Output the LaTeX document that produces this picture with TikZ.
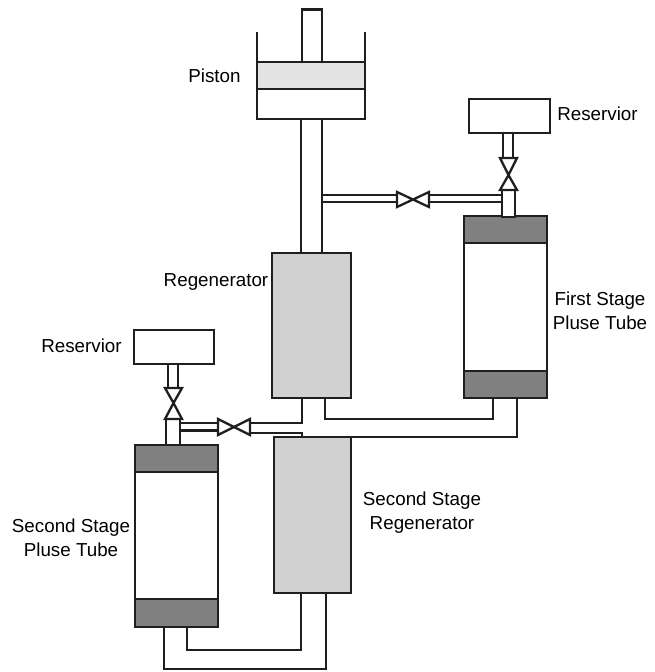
\documentclass[tikz,border=0pt]{standalone}
\usepackage{fontspec}
\setmainfont{Liberation Sans}
\tikzset{
  x=1pt,y=-1pt,
  lw/.style={line width=2.3pt,draw=black!88},
  box/.style={lw,rectangle,inner sep=0pt,outer sep=0pt},
  plain/.style={box,fill=white},
  regen/.style={box,fill=black!18},
  endcap/.style={box,fill=black!50},
  pipe/.style={lw,line join=miter},
  valve/.style={lw,fill=white,line join=miter},
  lbl/.style={font=\fontsize{18.8pt}{24pt}\selectfont,align=center,inner sep=0pt,text=black},
}
\begin{document}
\begin{tikzpicture}
\useasboundingbox (0,0) rectangle (654,672);
% named vertical guide lines
\foreach \n/\x in {pa/302,pb/325,pc/493,pd/517,pe/187,pf/164,pg/301,ph/326}
  \coordinate (\n) at (\x,0);
% piston assembly
\node[box,fill=white,minimum width=20pt,minimum height=53pt,anchor=north west] (rod) at (302,9.5) {};
\node[box,fill=black!11,minimum width=108pt,minimum height=27pt,anchor=north west] (piston) at (257,62) {};
\node[box,fill=white,minimum width=108pt,minimum height=30pt,anchor=north west] (chamber) at (257,89) {};
\draw[pipe] (piston.north west) -- ++(0,-30);
\draw[pipe] (piston.north east) -- ++(0,-30);
% main components
\node[box,fill=white,minimum width=21pt,minimum height=134pt,anchor=north west] (tube) at (301,119) {};
\node[regen,minimum width=79pt,minimum height=145pt,anchor=north west] (reg1) at (272,253) {};
\node[regen,minimum width=77pt,minimum height=156pt,anchor=north west] (reg2) at (274,437) {};
% first stage pulse tube
\node[plain,minimum width=81pt,minimum height=34pt,anchor=north west] (res1) at (469,99) {};
\node[plain,minimum width=83pt,minimum height=182pt,anchor=north west] (pt1) at (464,216) {};
\node[endcap,minimum width=83pt,minimum height=27pt,anchor=north west] (pt1top) at (464,216) {};
\node[endcap,minimum width=83pt,minimum height=27pt,anchor=north west] (pt1bot) at (464,371) {};
% second stage pulse tube
\node[plain,minimum width=80pt,minimum height=34pt,anchor=north west] (res2) at (134,330) {};
\node[plain,minimum width=83pt,minimum height=182pt,anchor=north west] (pt2) at (135,445) {};
\node[endcap,minimum width=83pt,minimum height=27pt,anchor=north west] (pt2top) at (135,445) {};
\node[endcap,minimum width=83pt,minimum height=28pt,anchor=north west] (pt2bot) at (135,599) {};
% first stage valves and pipes
\node[plain,minimum width=13pt,minimum height=27pt,anchor=north west] (tee1) at (502,190) {};
\draw[pipe] (503,133) -- ++(0,25) (513,133) -- ++(0,25);
\draw[valve] (500,158) -- (517,158) -- (508.5,175) -- cycle;
\draw[valve] (500,190) -- (517,190) -- (508.5,175) -- cycle;
\draw[pipe] (322,195) -- (397,195) (322,202) -- (397,202);
\draw[pipe] (429,195) -- (tee1.west |- 0,195) (429,202) -- (tee1.west |- 0,202);
\draw[valve] (397,192) -- (397,207) -- (413,199.5) -- cycle;
\draw[valve] (429,192) -- (429,207) -- (413,199.5) -- cycle;
% second stage valves and pipes
\node[plain,minimum width=14pt,minimum height=26pt,anchor=north west] (tee2) at (166,419) {};
\draw[pipe] (168,364) -- ++(0,24) (178,364) -- ++(0,24);
\draw[valve] (165,388) -- (182,388) -- (173.5,403) -- cycle;
\draw[valve] (165,419) -- (182,419) -- (173.5,403) -- cycle;
\draw[pipe] (tee2.east |- 0,423) -- (218,423) (tee2.east |- 0,430.5) -- (218,430.5);
\draw[valve] (218,419) -- (218,435) -- (234,427) -- cycle;
\draw[valve] (250,419) -- (250,435) -- (234,427) -- cycle;
% connecting lines
\draw[pipe] (reg1.south -| pa) |- (250,423);
\draw[pipe] (250,433) -| (reg2.north -| pa);
\draw[pipe] (reg1.south -| pb) |- (pc |- 0,419) -- (pt1bot.south -| pc);
\draw[pipe] (reg2.north east) -| (pt1bot.south -| pd);
\draw[pipe] (pt2bot.south -| pe) |- (pg |- 0,650) -- (reg2.south -| pg);
\draw[pipe] (pt2bot.south -| pf) |- (ph |- 0,669) -- (reg2.south -| ph);
% labels
\node[lbl] (l1) at (214.5,76) {Piston};
\node[lbl] (l2) at (597.5,114) {Reservior};
\node[lbl] (l3) at (216,282) {Regenerator};
\node[lbl] (l4) at (600,311) {First Stage\\Pluse Tube};
\node[lbl] (l5) at (81.5,346) {Reservior};
\node[lbl] (l6) at (422,513) {Second Stage\\Regenerator};
\node[lbl] (l7) at (71,538) {Second Stage\\Pluse Tube};
\end{tikzpicture}
\end{document}
